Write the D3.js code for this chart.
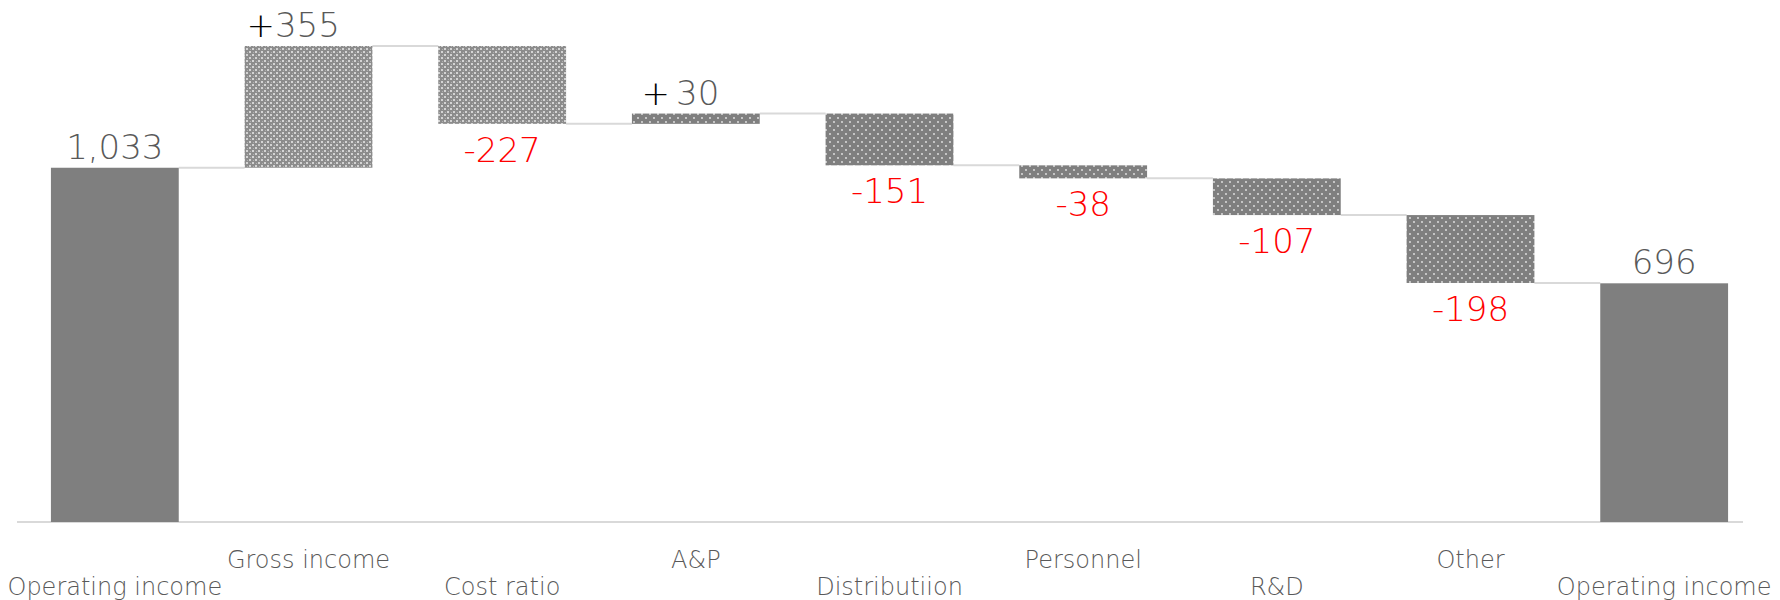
<!DOCTYPE html>
<html lang="en">
<head>
<meta charset="UTF-8">
<title>Operating income bridge</title>
<script src="https://d3js.org/d3.v7.min.js"></script>
<style>
  body { margin: 0; background: #fff; }
  text { font-family: "DejaVu Sans", "Lato", sans-serif; font-weight: 200; }
</style>
</head>
<body>
<div id="chart"></div>
<script>
// data
const categories = ["Operating income", "Gross income", "Cost ratio", "A&P", "Distributiion",
                    "Personnel", "R&D", "Other", "Operating income"];
const values = [1033, 355, -227, 30, -151, -38, -107, -198, 696];
const kinds = ["total", "delta", "delta", "delta", "delta", "delta", "delta", "delta", "total"];
const valueLabels = ["1,033", "355", "-227", "30", "-151", "-38", "-107", "-198", "696"];
const fills = ["solid", "diamond", "diamond", "dots", "dots", "dots", "dots", "dots", "solid"];

const W = 1780, H = 600;
const svg = d3.select("#chart").append("svg")
  .attr("width", W).attr("height", H);

// patterns
const defs = svg.append("defs");
const pDiamond = defs.append("pattern").attr("id", "diamond")
  .attr("patternUnits", "userSpaceOnUse").attr("width", 6).attr("height", 6);
pDiamond.append("rect").attr("width", 6).attr("height", 6).attr("fill", "#8c8c8c");
pDiamond.append("rect").attr("x", 0).attr("y", 0).attr("width", 2).attr("height", 2).attr("fill", "#d4d4d4");
pDiamond.append("rect").attr("x", 3).attr("y", 3).attr("width", 2).attr("height", 2).attr("fill", "#d4d4d4");
pDiamond.append("rect").attr("x", 1).attr("y", 4).attr("width", 1).attr("height", 1).attr("fill", "#b0b0b0");
pDiamond.append("rect").attr("x", 4).attr("y", 1).attr("width", 1).attr("height", 1).attr("fill", "#b0b0b0");

const pDots = defs.append("pattern").attr("id", "dots")
  .attr("patternUnits", "userSpaceOnUse").attr("width", 8).attr("height", 8);
pDots.append("rect").attr("width", 8).attr("height", 8).attr("fill", "#7f7f7f");
pDots.append("circle").attr("cx", 2).attr("cy", 2).attr("r", 0.9).attr("fill", "#e6e6e6");
pDots.append("circle").attr("cx", 6).attr("cy", 6).attr("r", 0.9).attr("fill", "#e6e6e6");

// waterfall
let cum = 0;
const rows = values.map((v, i) => {
  let lo, hi;
  if (kinds[i] === "total") { lo = 0; hi = v; cum = v; }
  else { lo = Math.min(cum, cum + v); hi = Math.max(cum, cum + v); cum += v; }
  return { i, v, lo, hi, level: cum, kind: kinds[i] };
});

const x = d3.scaleBand().domain(d3.range(categories.length))
  .range([18, 1761]).paddingInner(0.34).paddingOuter(0.17);
const y = d3.scaleLinear().domain([0, 1388]).range([522, 46]);
const bw = x.bandwidth();

// baseline
svg.append("line")
  .attr("x1", 17).attr("x2", 1743).attr("y1", y(0)).attr("y2", y(0))
  .attr("stroke", "#d9d9d9").attr("stroke-width", 2);

// connectors
svg.selectAll(".conn").data(rows.slice(0, -1)).enter().append("line")
  .attr("x1", d => x(d.i) + bw).attr("x2", d => x(d.i + 1))
  .attr("y1", d => y(d.level)).attr("y2", d => y(d.level))
  .attr("stroke", "#d9d9d9").attr("stroke-width", 2);

// bars
svg.selectAll(".bar").data(rows).enter().append("rect")
  .attr("x", d => x(d.i)).attr("width", bw)
  .attr("y", d => y(d.hi)).attr("height", d => y(d.lo) - y(d.hi))
  .attr("fill", d => fills[d.i] === "solid" ? "#7f7f7f" : `url(#${fills[d.i]})`);

// value labels
const lab = svg.selectAll(".val").data(rows).enter().append("text")
  .attr("text-anchor", "middle")
  .attr("font-size", 34)
  .attr("x", d => x(d.i) + bw / 2 - (d.kind === "delta" && d.v > 0 ? bw * 0.12 : 0))
  .attr("y", d => d.kind === "delta" && d.v < 0 ? y(d.lo) + 38 : y(d.hi) - 9)
  .attr("fill", d => d.kind === "delta" && d.v < 0 ? "#ff0000" : "#595959");
lab.filter(d => d.kind === "delta" && d.v > 0).append("tspan")
  .attr("fill", "#000").text("+");
lab.append("tspan")
  .attr("dx", d => d.kind === "delta" && d.v > 0 && d.v < 100 ? 6 : 0)
  .text(d => valueLabels[d.i]);

// category labels, staggered on two rows
svg.selectAll(".cat").data(categories).enter().append("text")
  .attr("text-anchor", "middle")
  .attr("font-size", 24)
  .attr("fill", "#595959")
  .attr("x", (d, i) => x(i) + bw / 2)
  .attr("y", (d, i) => i % 2 ? 568 : 595)
  .text(d => d);
</script>
</body>
</html>
